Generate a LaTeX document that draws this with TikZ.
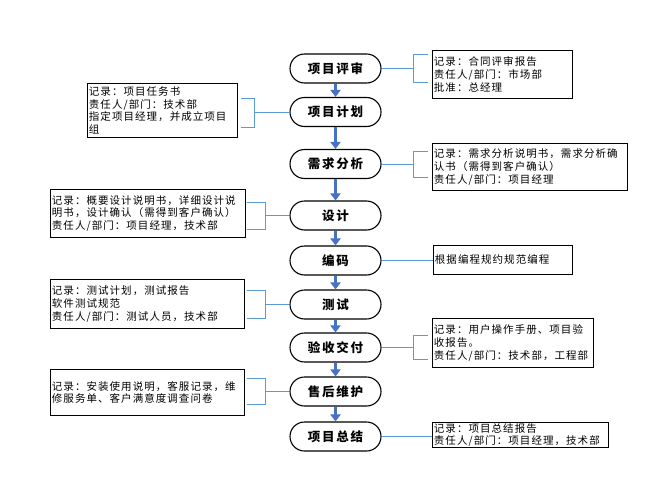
\documentclass[tikz,border=0pt]{standalone}
\usepackage{fontspec}
\setmainfont{Noto Sans CJK SC}
\newfontfamily\notefont{Noto Sans CJK SC}[LetterSpace=10]
\newfontfamily\stepfont{Noto Sans CJK SC}[LetterSpace=14]
\usetikzlibrary{arrows.meta}
\usetikzlibrary{positioning}
\definecolor{flowblue}{RGB}{68,114,196}
\definecolor{linkblue}{RGB}{91,155,213}
\tikzset{
  stepnode/.style={draw, line width=1.1pt, rounded corners=14.5pt,
    minimum width=91pt, minimum height=29pt, inner sep=0pt,
    font=\stepfont\bfseries\fontsize{12.5}{14}\selectfont},
  notebox/.style={draw, line width=0.9pt, anchor=north west, align=left,
    inner xsep=1.5pt, inner ysep=0pt,
    font=\notefont\fontsize{10.5}{12.6}\selectfont},
  flow/.style={flowblue, line width=2.2pt, -{Triangle[width=10pt,length=7pt]}},
  link/.style={linkblue, line width=1pt},
}

\begin{document}
\begin{tikzpicture}[x=1pt, y=-1pt]
  \useasboundingbox (0,0) rectangle (658,495);

  % steps
  \node[stepnode] (pingshen) at (335.5,68.5) {项目评审};
  \node[stepnode] (jihua) at (335.5,112) {项目计划};
  \node[stepnode] (xuqiu) at (335.5,164) {需求分析};
  \node[stepnode] (sheji) at (335.5,215.5) {设计};
  \node[stepnode] (bianma) at (335.5,260.5) {编码};
  \node[stepnode] (ceshi) at (335.5,304.5) {测试};
  \node[stepnode] (yanshou) at (335.5,347.5) {验收交付};
  \node[stepnode] (shouhou) at (335.5,391.5) {售后维护};
  \node[stepnode] (zongjie) at (335.5,436.5) {项目总结};

  \draw[flow] (pingshen.south) -- (jihua.north);
  \draw[flow] (jihua.south) -- (xuqiu.north);
  \draw[flow] (xuqiu.south) -- (sheji.north);
  \draw[flow] (sheji.south) -- (bianma.north);
  \draw[flow] (bianma.south) -- (ceshi.north);
  \draw[flow] (ceshi.south) -- (yanshou.north);
  \draw[flow] (yanshou.south) -- (shouhou.north);
  \draw[flow] (shouhou.south) -- (zongjie.north);

  % notes
  \node[notebox, minimum width=140pt, minimum height=48pt, text width=137pt] (note1) at (432,50)
    {记录：合同评审报告\\责任人/部门：市场部\\批准：总经理};
  \node[notebox, minimum width=150pt, minimum height=54pt, text width=147pt] (note2) at (87,83)
    {记录：项目任务书\\责任人/部门：技术部\\指定项目经理，并成立项目\\组};
  \node[notebox, minimum width=195pt, minimum height=47pt, text width=192pt] (note3) at (432,143)
    {记录：需求分析说明书，需求分析确\\认书（需得到客户确认）\\责任人/部门：项目经理};
  \node[notebox, minimum width=195pt, minimum height=48pt, text width=192pt] (note4) at (50,189)
    {记录：概要设计说明书，详细设计说\\明书，设计确认（需得到客户确认）\\责任人/部门：项目经理，技术部};
  \node[notebox, minimum width=139pt, minimum height=29pt, text width=136pt] (note5) at (433,245)
    {根据编程规约规范编程};
  \node[notebox, minimum width=194pt, minimum height=49pt, text width=191pt] (note6) at (50,279)
    {记录：测试计划，测试报告\\软件测试规范\\责任人/部门：测试人员，技术部};
  \node[notebox, minimum width=161pt, minimum height=49pt, text width=158pt] (note7) at (432,318)
    {记录：用户操作手册、项目验\\收报告。\\责任人/部门：技术部，工程部};
  \node[notebox, minimum width=194pt, minimum height=46pt, text width=191pt] (note8) at (50,369)
    {记录：安装使用说明，客服记录，维\\修服务单、客户满意度调查问卷};
  \node[notebox, minimum width=176pt, minimum height=25pt, text width=173pt] (note9) at (432,422)
    {记录：项目总结报告\\责任人/部门：项目经理，技术部};

  % brackets
  \draw[link] (pingshen.east) -- ++(32,0) ++(14,-13.5) -- ++(-14,0) -- ++(0,27) -- ++(14,0);
  \draw[link] (jihua.west) -- ++(-35,0) ++(-13,-14) -- ++(13,0) -- ++(0,29) -- ++(-13,0);
  \draw[link] (xuqiu.east) -- ++(32,0) ++(14,-13) -- ++(-14,0) -- ++(0,26) -- ++(14,0);
  \draw[link] (sheji.west) -- ++(-24,0) ++(-18,-13.5) -- ++(18,0) -- ++(0,27) -- ++(-18,0);
  \draw[link] (bianma.east) -- (bianma.east -| note5.west);
  \draw[link] (ceshi.west) -- ++(-24,0) ++(-18,-14) -- ++(18,0) -- ++(0,28) -- ++(-18,0);
  \draw[link] (yanshou.east) -- ++(32,0) ++(14,-12) -- ++(-14,0) -- ++(0,24) -- ++(14,0);
  \draw[link] (shouhou.west) -- ++(-24,0) ++(-18,-13) -- ++(18,0) -- ++(0,26) -- ++(-18,0);
  \draw[link] (zongjie.east) -- (zongjie.east -| note9.west);
\end{tikzpicture}
\end{document}
